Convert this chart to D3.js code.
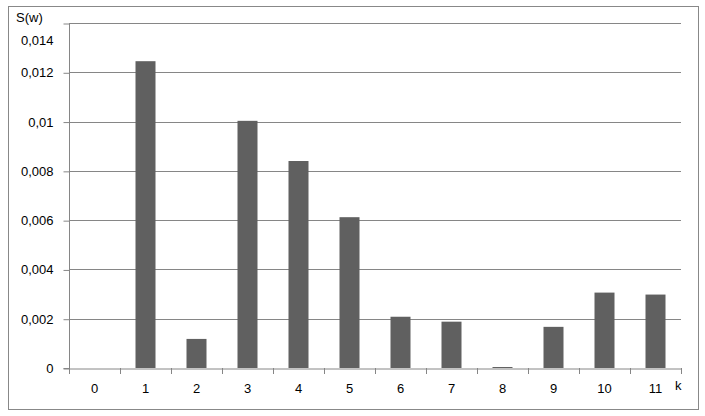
<!DOCTYPE html>
<html><head><meta charset="utf-8">
<script src="https://cdn.jsdelivr.net/npm/d3@7"></script>
<style>body{margin:0;background:#fff;} text{font-family:"Liberation Sans",Arial,sans-serif;font-size:13px;fill:#000;}</style>
</head><body>
<svg id="c" width="705" height="416"></svg>
<script>
const categories = ["0","1","2","3","4","5","6","7","8","9","10","11"];
const values = [0, 0.01245, 0.00118, 0.01003, 0.0084, 0.00612, 0.00208, 0.00188, 0.00004, 0.00167, 0.00306, 0.00298];
const yTicks = [0, 0.002, 0.004, 0.006, 0.008, 0.01, 0.012, 0.014];
const yTickLabels = ["0","0,002","0,004","0,006","0,008","0,01","0,012","0,014"];

const svg = d3.select("#c");
svg.append("rect").attr("x",8.5).attr("y",6.5).attr("width",690).attr("height",403)
  .attr("fill","#fff").attr("stroke","#888").attr("stroke-width",1);

const L=69, R=681, T=23, B=368;
const x = d3.scaleBand().domain(categories).range([L,R]).paddingInner(0.6).paddingOuter(0.3);
const xb = d3.scaleBand().domain(categories).range([L,R]);
const y = d3.scaleLinear().domain([0,0.014]).range([B,T]);

// gridlines
svg.append("g").selectAll("line").data(yTicks.slice(1)).join("line")
  .attr("x1",L).attr("x2",R).attr("y1",d=>Math.round(y(d))+0.5).attr("y2",d=>Math.round(y(d))+0.5)
  .attr("stroke","#868686").attr("stroke-width",1);

// bars
svg.append("g").selectAll("rect").data(values).join("rect")
  .attr("x",(d,i)=>xb(categories[i]) + xb.bandwidth()/2 - 10)
  .attr("width",20)
  .attr("y",d=>y(d)).attr("height",d=>B-y(d)).attr("fill","#606060");

// y axis
const ya = svg.append("g").attr("transform",`translate(${L+0.5},0)`)
  .call(d3.axisLeft(y).tickValues(yTicks).tickSize(6).tickFormat((d,i)=>yTickLabels[i]));
ya.select(".domain").attr("stroke","#868686").attr("d",`M-6,${B+0.5}H0V${T+0.5}`);
ya.selectAll(".tick line").attr("stroke","#868686").attr("transform","translate(0,0.5)");
ya.selectAll(".tick text").attr("x",-16).attr("dy","0.35em").style("font-size","13px");
ya.selectAll(".tick").filter(d=>d===0.014).select("text").attr("y",17);

// x axis
const xa = svg.append("g").attr("transform",`translate(0,${B+0.5})`)
  .call(d3.axisBottom(xb).tickSize(0).tickSizeOuter(0));
xa.select(".domain").attr("stroke","#868686");
xa.selectAll(".tick text").attr("y",20).attr("dy","0.35em").style("font-size","13px");
const bounds = categories.map(c=>xb(c)).concat([R]);
svg.append("g").selectAll("line").data(bounds).join("line")
  .attr("x1",d=>Math.round(d)+0.5).attr("x2",d=>Math.round(d)+0.5).attr("y1",B).attr("y2",B+6)
  .attr("stroke","#868686");

svg.append("text").attr("x",16).attr("y",22).text("S(w)");
svg.append("text").attr("x",675).attr("y",390).text("k");
</script>
</body></html>
